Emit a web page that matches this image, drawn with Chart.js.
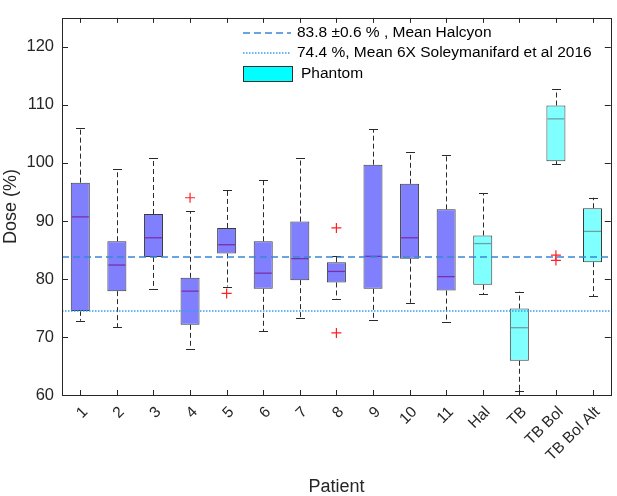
<!DOCTYPE html>
<html><head><meta charset="utf-8">
<script src="https://cdn.jsdelivr.net/npm/chart.js@4/dist/chart.umd.min.js"></script>
<style>html,body{margin:0;padding:0;background:#fff}#wrap{width:617px;height:496px}</style>
</head><body><div id="wrap"><canvas id="c" width="617" height="496"></canvas></div>
<script>
// ---- data ----
const categories = ['1','2','3','4','5','6','7','8','9','10','11','Hal','TB','TB Bol','TB Bol Alt'];
const isPhantom   = [false,false,false,false,false,false,false,false,false,false,false,true,true,true,true];
const q1          = [74.5,77.9,83.8,72.1,84.4,78.3,79.8,79.4,78.3,83.5,78.0,79.0,65.9,100.3,82.9];
const q3          = [96.6,86.5,91.2,80.2,88.8,86.5,89.9,82.9,99.7,96.4,92.0,87.5,74.9,109.9,92.2];
const medians     = [90.7,82.4,87.1,77.9,85.9,81.0,83.5,81.3,83.9,87.1,80.4,86.1,71.6,107.6,88.2];
const whiskerLow  = [72.8,71.7,78.2,68.0,78.7,71.0,73.3,76.6,73.0,75.9,72.6,77.4,60.7,99.8,77.0];
const whiskerHigh = [106.0,98.9,100.8,91.7,95.3,97.0,100.8,84.0,105.8,101.8,101.4,94.8,77.8,112.7,94.0];
const outlierIndex = [3,4,7,7,13,13];
const outlierValue = [94.0,77.5,88.8,70.7,84.1,83.2];
const refValues = [83.8, 74.4];
const yTicks = [60,70,80,90,100,110,120];
const legendLabels = ['83.8 \u00B10.6 % , Mean Halcyon','74.4 %, Mean 6X Soleymanifard et al 2016','Phantom'];

const FONT = "'Liberation Sans', Arial, sans-serif";
const TXT = '#262626';
const PATIENT_FILL = '#8080ff';
const PHANTOM_FILL = '#80ffff';
const REF_STYLES = [
  {color: '#3a86d6', dash: [7,4]},
  {color: '#30a0f0', dash: [1.5,1.5]}
];

const boxParts = {
  id: 'boxParts',
  beforeDatasetsDraw(chart) {
    const {ctx, scales:{x, y}} = chart;
    ctx.save();
    ctx.strokeStyle = '#2a2a2a';
    ctx.lineWidth = 1;
    categories.forEach((c, i) => {
      const px = Math.round(x.getPixelForValue(i)) + 0.5;
      ctx.setLineDash([5,3]);
      ctx.beginPath();
      ctx.moveTo(px, y.getPixelForValue(q3[i]));
      ctx.lineTo(px, y.getPixelForValue(whiskerHigh[i]));
      ctx.moveTo(px, y.getPixelForValue(q1[i]));
      ctx.lineTo(px, y.getPixelForValue(whiskerLow[i]));
      ctx.stroke();
      ctx.setLineDash([]);
      ctx.beginPath();
      [whiskerHigh[i], whiskerLow[i]].forEach(v => {
        const py = Math.round(y.getPixelForValue(v)) + 0.5;
        ctx.moveTo(px - 4.5, py); ctx.lineTo(px + 4.5, py);
      });
      ctx.stroke();
    });
    ctx.restore();
  },
  afterDatasetDraw(chart, args) {
    if (args.meta.type !== 'bar') return;
    const {ctx, chartArea:a, scales:{y}} = chart;
    ctx.save();
    ctx.lineWidth = 1.3;
    args.meta.data.forEach((bar, i) => {
      const half = bar.width / 2;
      const py = y.getPixelForValue(medians[i]);
      ctx.strokeStyle = isPhantom[i] ? '#6fa0a0' : '#7a2fa8';
      ctx.beginPath();
      ctx.moveTo(bar.x - half + 1, py); ctx.lineTo(bar.x + half - 1, py);
      ctx.stroke();
    });
    // reference mean lines
    ctx.lineWidth = 1.3;
    refValues.forEach((v, k) => {
      const py = Math.round(y.getPixelForValue(v));
      ctx.strokeStyle = REF_STYLES[k].color;
      ctx.setLineDash(REF_STYLES[k].dash);
      ctx.beginPath();
      ctx.moveTo(a.left, py); ctx.lineTo(a.right, py);
      ctx.stroke();
    });
    ctx.restore();
  },
  afterDraw(chart) {
    const {ctx, chartArea:a, scales:{x, y}} = chart;
    ctx.save();
    ctx.strokeStyle = TXT;
    ctx.lineWidth = 1;
    ctx.strokeRect(Math.round(a.left)+0.5, Math.round(a.top)+0.5, Math.round(a.right-a.left), Math.round(a.bottom-a.top));
    ctx.beginPath();
    yTicks.forEach(v => {
      const py = Math.round(y.getPixelForValue(v)) + 0.5;
      ctx.moveTo(a.left, py); ctx.lineTo(a.left + 6, py);
      ctx.moveTo(a.right, py); ctx.lineTo(a.right - 6, py);
    });
    categories.forEach((c, i) => {
      const px = Math.round(x.getPixelForValue(i)) + 0.5;
      ctx.moveTo(px, a.bottom); ctx.lineTo(px, a.bottom - 5);
      ctx.moveTo(px, a.top); ctx.lineTo(px, a.top + 5);
    });
    ctx.stroke();
    // legend
    ctx.font = '15.5px ' + FONT;
    ctx.fillStyle = '#000';
    ctx.textBaseline = 'middle';
    const rows = [33, 53, 74];
    [0, 1].forEach(k => {
      ctx.strokeStyle = REF_STYLES[k].color;
      ctx.lineWidth = 1.3;
      ctx.setLineDash(REF_STYLES[k].dash);
      ctx.beginPath();
      ctx.moveTo(243, rows[k]); ctx.lineTo(291, rows[k]);
      ctx.stroke();
      ctx.setLineDash([]);
      ctx.fillText(legendLabels[k], 297, rows[k]);
    });
    ctx.fillStyle = '#00ffff';
    ctx.fillRect(243, 66, 49, 15);
    ctx.strokeStyle = '#333';
    ctx.lineWidth = 1;
    ctx.strokeRect(243.5, 66.5, 49, 15);
    ctx.fillStyle = '#000';
    ctx.fillText(legendLabels[2], 301, rows[2]);
    ctx.restore();
  }
};

new Chart(document.getElementById('c'), {
  type: 'bar',
  data: {
    labels: categories,
    datasets: [
      {
        type: 'bar', label: legendLabels[2], order: 2,
        data: categories.map((c, i) => [q1[i], q3[i]]),
        backgroundColor: isPhantom.map(p => p ? PHANTOM_FILL : PATIENT_FILL),
        borderColor: '#3a3a3a', borderWidth: 1, borderSkipped: false,
        barPercentage: 0.52, categoryPercentage: 1
      },
      {
        type: 'scatter', label: 'Outliers', order: 0,
        data: outlierIndex.map((ix, k) => ({x: categories[ix], y: outlierValue[k]})),
        pointStyle: 'cross', radius: 5, borderColor: '#ff2020', borderWidth: 1.2,
        backgroundColor: '#ff2020', showLine: false
      }
    ]
  },
  options: {
    responsive: false, animation: false, devicePixelRatio: 1,
    layout: {padding: {top: 2, right: 4, left: 0, bottom: 0}},
    plugins: {legend: {display: false}, tooltip: {enabled: false}},
    scales: {
      x: {
        type: 'category', offset: true, position: 'bottom',
        grid: {display: false, drawTicks: false}, border: {display: false},
        ticks: {minRotation: 45, maxRotation: 45, padding: 8, labelOffset: 5, color: TXT, font: {family: FONT, size: 15.5}, autoSkip: false},
        title: {display: true, text: 'Patient', color: TXT, font: {family: FONT, size: 18, lineHeight: 1}, padding: {top: 0, bottom: 0}},
        afterFit(s) { s.height = 101; }
      },
      y: {
        min: 60, max: 125,
        grid: {display: false, drawTicks: false}, border: {display: false},
        ticks: {stepSize: 10, padding: 8, color: TXT, font: {family: FONT, size: 16.5}},
        afterBuildTicks(s) { s.ticks = yTicks.map(v => ({value: v})); },
        title: {display: true, text: 'Dose (%)', color: TXT, font: {family: FONT, size: 18}, padding: {top: 0, bottom: 0}},
        afterFit(s) { s.width = 62; }
      }
    }
  },
  plugins: [boxParts]
});
</script></body></html>
